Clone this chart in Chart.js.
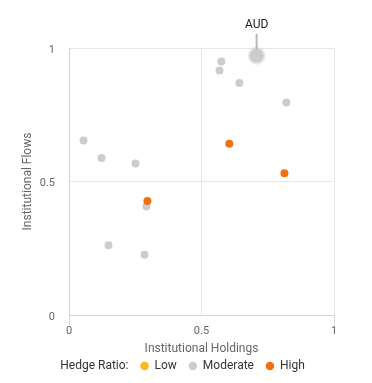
<!DOCTYPE html>
<html>
<head>
<meta charset="utf-8">
<script src="https://cdn.jsdelivr.net/npm/chart.js@4.4.0/dist/chart.umd.min.js"></script>
<style>
  html, body { margin: 0; padding: 0; background: #fff; }
</style>
</head>
<body>
<canvas id="myChart" width="372" height="383"></canvas>
<script>
// axis ticks
const xTicks = [0, 0.5, 1];
const yTicks = [0, 0.5, 1];

// legend
const legendTitle = 'Hedge Ratio:';
const seriesNames = ['Low', 'Moderate', 'High'];

// Low hedge ratio (none visible in the picture)
const lowX = [];
const lowY = [];

// Moderate hedge ratio, only AUD is labelled
const modNames = ['AUD', '', '', '', '', '', '', '', '', '', ''];
const modX = [0.708, 0.575, 0.568, 0.643, 0.820, 0.055, 0.123, 0.251, 0.292, 0.149, 0.285];
const modY = [0.971, 0.949, 0.916, 0.869, 0.796, 0.654, 0.588, 0.567, 0.406, 0.261, 0.226];

// High hedge ratio
const highX = [0.296, 0.605, 0.813];
const highY = [0.427, 0.641, 0.531];

const toPoints = (xs, ys) => xs.map((x, i) => ({ x: x, y: ys[i] }));

const gray = '#cccccc';
const FONT = 'Roboto';

// label + connector over the named points
const calloutPlugin = {
  id: 'callout',
  afterDatasetsDraw(chart) {
    const meta = chart.getDatasetMeta(1);
    const c = chart.ctx;
    modNames.forEach((name, i) => {
      if (!name) return;
      const pt = meta.data[i];
      c.save();
      c.strokeStyle = '#b8b8b8';
      c.lineWidth = 2;
      c.beginPath();
      c.moveTo(pt.x, pt.y - 6);
      c.lineTo(pt.x, pt.y - 22);
      c.stroke();
      c.fillStyle = '#222';
      c.font = '12px ' + FONT;
      c.textAlign = 'center';
      c.textBaseline = 'middle';
      c.fillText(name, pt.x, pt.y - 31);
      c.restore();
    });
  }
};

const ctx = document.getElementById('myChart').getContext('2d');
const myChart = new Chart(ctx, {
  type: 'scatter',
  data: {
    datasets: [
      {
        label: seriesNames[0],
        data: toPoints(lowX, lowY),
        backgroundColor: '#ffb81c',
        pointRadius: 4,
        borderWidth: 0,
        order: 1,
        clip: false
      },
      {
        label: seriesNames[1],
        data: toPoints(modX, modY),
        backgroundColor: gray,
        borderColor: 'rgba(204,204,204,0.45)',
        pointRadius: c => modNames[c.dataIndex] ? 7 : 4,
        borderWidth: c => modNames[c.dataIndex] ? 4 : 0,
        order: 2,
        clip: false
      },
      {
        label: seriesNames[2],
        data: toPoints(highX, highY),
        backgroundColor: '#f07010',
        pointRadius: 4,
        borderWidth: 0,
        order: 0,
        clip: false
      }
    ]
  },
  options: {
    responsive: false,
    animation: false,
    layout: { padding: { top: 48, right: 38, bottom: 1, left: 17 } },
    plugins: {
      tooltip: { enabled: false },
      legend: {
        position: 'bottom',
        onClick: () => {},
        labels: {
          usePointStyle: true,
          boxWidth: 8,
          boxHeight: 6,
          padding: 12,
          color: '#333',
          font: { family: FONT, size: 12 },
          generateLabels: chart => {
            const items = [{
              text: legendTitle,
              fillStyle: 'rgba(0,0,0,0)',
              strokeStyle: 'rgba(0,0,0,0)',
              lineWidth: 0,
              pointStyle: 'circle',
              hidden: false,
              datasetIndex: -1,
              fontColor: '#333'
            }];
            chart.data.datasets.forEach((ds, i) => {
              items.push({
                text: ds.label,
                fillStyle: ds.backgroundColor,
                strokeStyle: ds.backgroundColor,
                lineWidth: 0,
                pointStyle: 'circle',
                hidden: false,
                datasetIndex: i,
                fontColor: '#333'
              });
            });
            return items;
          }
        }
      }
    },
    scales: {
      x: {
        type: 'linear',
        min: 0,
        max: 1,
        afterBuildTicks: s => { s.ticks = xTicks.map(v => ({ value: v })); },
        afterFit: s => { s.height = 33; },
        ticks: {
          color: '#666',
          padding: 0,
          font: { family: FONT, size: 11 },
          maxRotation: 0,
          callback: v => String(v)
        },
        grid: {
          color: c => c.tick && c.tick.value === 0 ? 'rgba(0,0,0,0)' : '#e6e6e6',
          tickColor: c => c.tick && c.tick.value === 0.5 ? 'rgba(0,0,0,0)' : '#ccd6eb',
          tickLength: 10
        },
        border: { color: '#ccd6eb' },
        title: {
          display: true,
          text: 'Institutional Holdings',
          color: '#666',
          font: { family: FONT, size: 12 },
          padding: { top: 0, bottom: -8 }
        }
      },
      y: {
        type: 'linear',
        min: 0,
        max: 1,
        afterBuildTicks: s => { s.ticks = yTicks.map(v => ({ value: v })); },
        afterFit: s => { s.width = 52; },
        ticks: {
          color: '#666',
          padding: 14,
          labelOffset: 2,
          font: { family: FONT, size: 11 },
          callback: v => String(v)
        },
        grid: {
          color: c => c.tick && c.tick.value === 0 ? 'rgba(0,0,0,0)' : '#e6e6e6',
          drawTicks: false
        },
        border: { color: '#ccd6eb' },
        title: {
          display: true,
          text: 'Institutional Flows',
          color: '#666',
          font: { family: FONT, size: 12 },
          padding: { top: 4, bottom: 4 }
        }
      }
    }
  },
  plugins: [calloutPlugin]
});
</script>
</body>
</html>
